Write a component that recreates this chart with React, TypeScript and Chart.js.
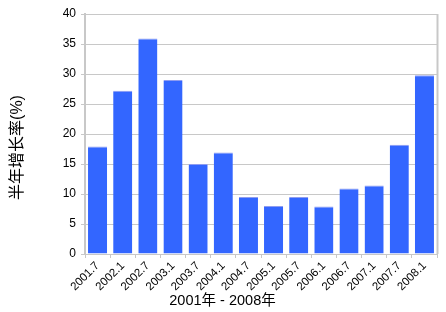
import React, { useEffect, useRef } from "react";
import { Chart, registerables } from "chart.js";

Chart.register(...registerables);

const categories = [
  "2001.7", "2002.1", "2002.7", "2003.1", "2003.7", "2004.1", "2004.7",
  "2005.1", "2005.7", "2006.1", "2006.7", "2007.1", "2007.7", "2008.1",
];
const growthValues = [17.9, 27.2, 35.9, 29.0, 15.0, 16.9, 9.5, 8.0, 9.5, 7.9, 10.9, 11.4, 18.2, 29.8];
const yTitle = "半年增长率(%)";
const xTitle = "2001年 - 2008年";
const yMin = 0;
const yMax = 40;
const yStep = 5;

const FONT = "Arial, 'Liberation Sans', 'Noto Sans CJK SC', sans-serif";

const decorPlugin = {
  id: "decor",
  afterDraw(chart: any) {
    const { ctx, chartArea } = chart;
    ctx.save();
    // right border
    ctx.strokeStyle = "#c8c8c8";
    ctx.lineWidth = 2;
    ctx.beginPath();
    ctx.moveTo(chartArea.right + 0.5, chartArea.top);
    ctx.lineTo(chartArea.right + 0.5, chartArea.bottom);
    ctx.stroke();
    // titles
    ctx.fillStyle = "#000";
    ctx.textAlign = "center";
    ctx.textBaseline = "middle";
    ctx.font = "14.5px " + FONT;
    ctx.fillText(xTitle, 222.5, 300.5);
    ctx.font = "16px " + FONT;
    ctx.translate(17.5, 147.5);
    ctx.rotate(-Math.PI / 2);
    ctx.fillText(yTitle, 0, 0);
    ctx.restore();
  },
};

export default function App() {
  const ref = useRef<HTMLCanvasElement>(null);
  useEffect(() => {
    if (!ref.current) return;
    const chart = new Chart(ref.current, {
      type: "bar",
      data: {
        labels: categories,
        datasets: [
          {
            data: growthValues,
            backgroundColor: "#3366ff",
            borderColor: "#8e9cf0",
            borderWidth: { top: 1, left: 0, right: 0, bottom: 0 },
            borderSkipped: "bottom",
            barPercentage: 0.76,
            categoryPercentage: 1,
          },
        ],
      },
      options: {
        responsive: false,
        animation: false,
        layout: { padding: { top: 14, right: 9, left: 0, bottom: 0 } },
        plugins: { legend: { display: false }, tooltip: { enabled: false }, title: { display: false } },
        scales: {
          x: {
            afterFit: (s: any) => { s.height = 58; },
            grid: { offset: true, drawOnChartArea: false, tickLength: 4, color: "#c8c8c8" },
            border: { color: "#c8c8c8", width: 1 },
            ticks: {
              autoSkip: false,
              minRotation: 45,
              maxRotation: 45,
              padding: 1,
              color: "#000",
              font: { size: 11.5, family: FONT },
            },
          },
          y: {
            min: yMin,
            max: yMax,
            afterFit: (s: any) => { s.width = 85; },
            grid: { color: "#c8c8c8", tickLength: 4 },
            border: { color: "#c8c8c8", width: 2 },
            ticks: {
              stepSize: yStep,
              padding: 5,
              color: "#000",
              font: { size: 12, family: FONT },
            },
          },
        },
      },
      plugins: [decorPlugin],
    });
    return () => chart.destroy();
  }, []);
  return (
    <canvas
      ref={ref}
      width={446}
      height={312}
      style={{ position: "absolute", left: 0, top: 0, display: "block" }}
    />
  );
}
